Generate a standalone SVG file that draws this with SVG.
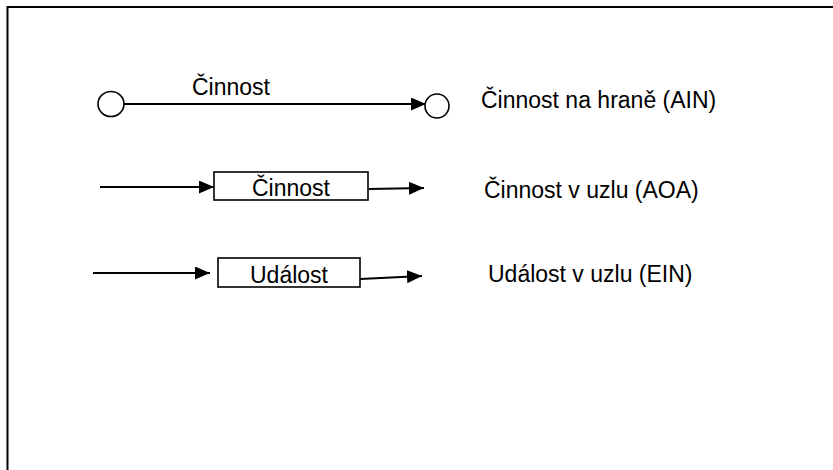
<svg xmlns="http://www.w3.org/2000/svg" width="833" height="470" viewBox="0 0 833 470">
<defs>
<style>
.t{font-family:"Liberation Sans",Arial,sans-serif;font-size:23px;fill:#000}
.ln{stroke:#000;stroke-width:2.2;fill:none}
.nd{stroke:#000;stroke-width:1.6;fill:#fff}
</style>
<marker id="ah" viewBox="0 0 10 10" refX="10" refY="5" markerWidth="15" markerHeight="13" markerUnits="userSpaceOnUse" orient="auto" preserveAspectRatio="none">
<path d="M0,0 L10,5 L0,10 z" fill="#000"/>
</marker>
</defs>
<rect width="833" height="470" fill="#fff"/>
<g id="frame">
<path d="M7.5,470 V7 H833" fill="none" stroke="#000" stroke-width="2"/>
</g>
<g id="connectors">
<line class="ln" x1="124" y1="104" x2="426" y2="104" marker-end="url(#ah)"/>
<line class="ln" x1="100" y1="187" x2="214" y2="187" marker-end="url(#ah)"/>
<line class="ln" x1="369" y1="189" x2="424" y2="188" marker-end="url(#ah)" stroke-width="2.8"/>
<line class="ln" x1="93" y1="273" x2="210" y2="273" marker-end="url(#ah)"/>
<line class="ln" x1="360" y1="279" x2="422" y2="276" marker-end="url(#ah)" stroke-width="2.8"/>
</g>
<g id="n1"><ellipse class="nd" cx="111" cy="104" rx="13" ry="12.5"/></g>
<g id="n2"><ellipse class="nd" cx="437" cy="106" rx="12" ry="12"/></g>
<g id="lbl1"><text class="t" x="192" y="95">Činnost</text></g>
<g id="box1"><rect x="214" y="172" width="154" height="28" fill="#fff" stroke="#000" stroke-width="1.6"/><text class="t" x="291" y="196" text-anchor="middle">Činnost</text></g>
<g id="box2"><rect x="218" y="258" width="142" height="29" fill="#fff" stroke="#000" stroke-width="1.6"/><text class="t" x="289" y="283" text-anchor="middle">Událost</text></g>
<g id="desc1"><text class="t" x="481" y="108">Činnost na hraně (AIN)</text></g>
<g id="desc2"><text class="t" x="484" y="198">Činnost v uzlu (AOA)</text></g>
<g id="desc3"><text class="t" x="488" y="282">Událost v uzlu (EIN)</text></g>
</svg>
